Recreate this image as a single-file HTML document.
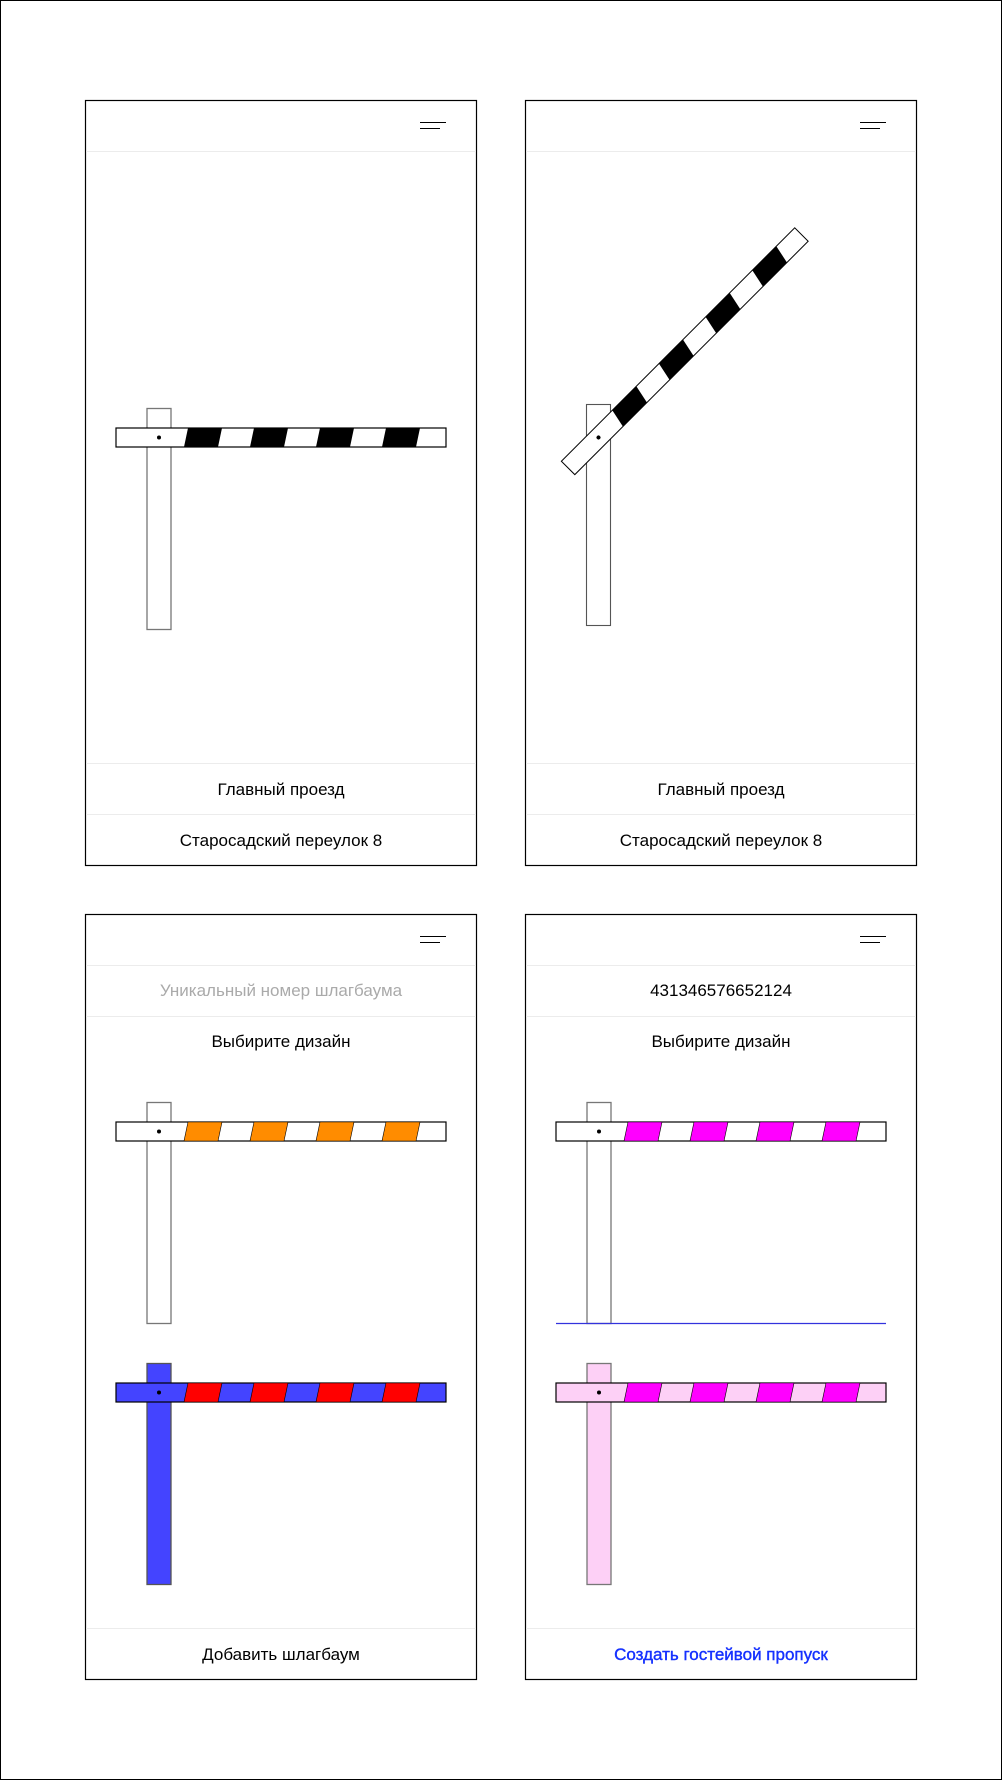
<!DOCTYPE html>
<html><head><meta charset="utf-8"><style>
html,body{margin:0;padding:0;background:#fff}
svg{display:block}
text{font-family:"Liberation Sans","DejaVu Sans",sans-serif;font-size:17px;text-anchor:middle}
</style></head><body>
<svg width="1002" height="1780" viewBox="0 0 1002 1780" xmlns="http://www.w3.org/2000/svg">
<defs>
<g id="stripesK">
<polygon points="29,-9.5 63,-9.5 59,9.5 25,9.5"/>
<polygon points="95,-9.5 129,-9.5 125,9.5 91,9.5"/>
<polygon points="161,-9.5 195,-9.5 191,9.5 157,9.5"/>
<polygon points="227,-9.5 261,-9.5 257,9.5 223,9.5"/>
</g>
</defs>
<rect x="0.5" y="0.5" width="1001" height="1779" fill="#fff" stroke="#000"/>

<g fill="none" stroke="#000" stroke-width="1.2">
<rect x="85.5" y="100.5" width="391" height="765"/>
<rect x="525.5" y="100.5" width="391" height="765"/>
<rect x="85.5" y="914.5" width="391" height="765"/>
<rect x="525.5" y="914.5" width="391" height="765"/>
</g>
<g stroke="#ececec" stroke-width="1">
<line x1="86" y1="151.5" x2="476" y2="151.5"/><line x1="526" y1="151.5" x2="916" y2="151.5"/>
<line x1="86" y1="763.5" x2="476" y2="763.5"/><line x1="526" y1="763.5" x2="916" y2="763.5"/>
<line x1="86" y1="814.5" x2="476" y2="814.5"/><line x1="526" y1="814.5" x2="916" y2="814.5"/>
<line x1="86" y1="965.5" x2="476" y2="965.5"/><line x1="526" y1="965.5" x2="916" y2="965.5"/>
<line x1="86" y1="1016.5" x2="476" y2="1016.5"/><line x1="526" y1="1016.5" x2="916" y2="1016.5"/>
<line x1="86" y1="1628.5" x2="476" y2="1628.5"/><line x1="526" y1="1628.5" x2="916" y2="1628.5"/>
</g>
<g stroke="#000" stroke-width="1">
<line x1="420" y1="122.5" x2="446" y2="122.5"/><line x1="420" y1="128.5" x2="440" y2="128.5"/>
<line x1="860" y1="122.5" x2="886" y2="122.5"/><line x1="860" y1="128.5" x2="880" y2="128.5"/>
<line x1="420" y1="936.5" x2="446" y2="936.5"/><line x1="420" y1="942.5" x2="440" y2="942.5"/>
<line x1="860" y1="936.5" x2="886" y2="936.5"/><line x1="860" y1="942.5" x2="880" y2="942.5"/>
</g>

<g transform="translate(159,437.5)">
<rect x="-12" y="-29" width="24" height="221" fill="#fff" stroke="#777" stroke-width="1.3"/>
<rect x="-43" y="-9.5" width="330" height="19" fill="#fff" stroke="#000" stroke-width="1.2"/>
<use href="#stripesK" fill="#000"/>
<circle cx="0" cy="0" r="2" fill="#000"/>
</g>
<g transform="translate(598.5,437.5)">
<rect x="-12" y="-33" width="24" height="221" fill="#fff" stroke="#555" stroke-width="1.1"/>
<g transform="rotate(-45)">
<rect x="-43" y="-9.5" width="330" height="19" fill="#fff" stroke="#000" stroke-width="1"/>
<use href="#stripesK" fill="#000"/>
<circle cx="0" cy="0" r="2" fill="#000"/>
</g>
</g>

<g transform="translate(159,1131.5)">
<rect x="-12" y="-29" width="24" height="221" fill="#fff" stroke="#777" stroke-width="1.3"/>
<rect x="-43" y="-9.5" width="330" height="19" fill="#fff" stroke="#000" stroke-width="1.2"/>
<use href="#stripesK" fill="#ff8c00" stroke="#000" stroke-width="0.6"/>
<circle cx="0" cy="0" r="2" fill="#000"/>
</g>
<g transform="translate(159,1392.5)">
<rect x="-12" y="-29" width="24" height="221" fill="#4444ff" stroke="#555" stroke-width="1.3"/>
<rect x="-43" y="-9.5" width="330" height="19" fill="#4444ff" stroke="#000" stroke-width="1.2"/>
<use href="#stripesK" fill="#ff0000" stroke="#000" stroke-width="0.6"/>
<circle cx="0" cy="0" r="2" fill="#000"/>
</g>

<g transform="translate(599,1131.5)">
<rect x="-12" y="-29" width="24" height="221" fill="#fff" stroke="#777" stroke-width="1.3"/>
<rect x="-43" y="-9.5" width="330" height="19" fill="#fff" stroke="#000" stroke-width="1.2"/>
<use href="#stripesK" fill="#ff00ff" stroke="#000" stroke-width="0.6"/>
<circle cx="0" cy="0" r="2" fill="#000"/>
</g>
<line x1="556" y1="1323.5" x2="886" y2="1323.5" stroke="#3333dd" stroke-width="1.2"/>
<g transform="translate(599,1392.5)">
<rect x="-12" y="-29" width="24" height="221" fill="#fdd0f6" stroke="#777" stroke-width="1.3"/>
<rect x="-43" y="-9.5" width="330" height="19" fill="#fdd0f6" stroke="#000" stroke-width="1.2"/>
<use href="#stripesK" fill="#ff00ff" stroke="#000" stroke-width="0.6"/>
<circle cx="0" cy="0" r="2" fill="#000"/>
</g>

<text x="281" y="795">Главный проезд</text>
<text x="721" y="795">Главный проезд</text>
<text x="281" y="846">Старосадский переулок 8</text>
<text x="721" y="846">Старосадский переулок 8</text>
<text x="281" y="996" fill="#aaaaaa">Уникальный номер шлагбаума</text>
<text x="721" y="996">431346576652124</text>
<text x="281" y="1047">Выбирите дизайн</text>
<text x="721" y="1047">Выбирите дизайн</text>
<text x="281" y="1660">Добавить шлагбаум</text>
<text x="721" y="1660" fill="#1531ff" stroke="#1531ff" stroke-width="0.4">Создать гостейвой пропуск</text>
</svg>
</body></html>
